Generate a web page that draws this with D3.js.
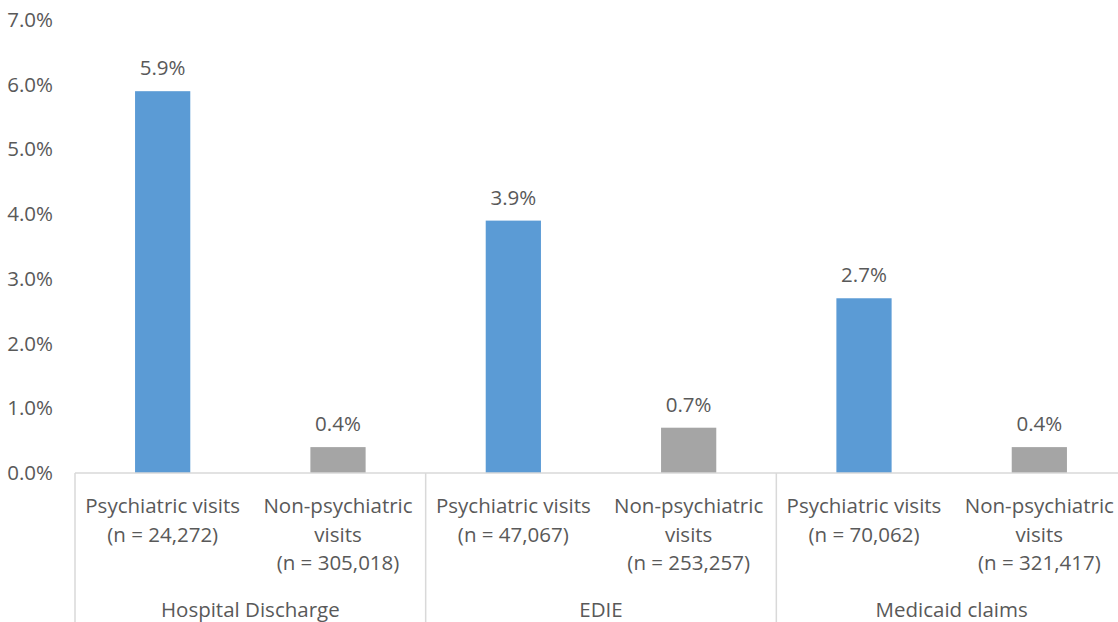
<!DOCTYPE html>
<html>
<head>
<meta charset="utf-8">
<script src="https://cdn.jsdelivr.net/npm/d3@7"></script>
<style>
  body { margin: 0; background: #fff; }
  svg text { font-family: "Open Sans", sans-serif; fill: #595959; }
</style>
</head>
<body>
<svg class="chart"></svg>
<script>
// data
var groups = ["Hospital Discharge", "EDIE", "Medicaid claims"];
var barLabels = [
  ["Psychiatric visits", "(n = 24,272)"],
  ["Non-psychiatric", "visits", "(n = 305,018)"],
  ["Psychiatric visits", "(n = 47,067)"],
  ["Non-psychiatric", "visits", "(n = 253,257)"],
  ["Psychiatric visits", "(n = 70,062)"],
  ["Non-psychiatric", "visits", "(n = 321,417)"]
];
var barKind = ["psych", "non", "psych", "non", "psych", "non"];
var values = [5.9, 0.4, 3.9, 0.7, 2.7, 0.4];
var yTicks = [0, 1, 2, 3, 4, 5, 6, 7];

var width = 1118, height = 622;
var margins = {top: 20, bot: 149, left: 75};
var plotRight = 1127; // chart is a bit cut off on the right
var fs = "20.5px";

var svg = d3.select("svg.chart")
            .attr("width", width)
            .attr("height", height);

var xScale = d3.scaleBand()
               .domain(d3.range(values.length))
               .range([margins.left, plotRight])
               .paddingInner(0.685)
               .paddingOuter(0.3425);

var yScale = d3.scaleLinear()
               .domain([0, 7])
               .range([height - margins.bot, margins.top]);

var colors = {psych: "#5B9BD5", non: "#A5A5A5"};

// y axis labels only (no line, no gridlines)
var yAxis = d3.axisLeft(yScale)
              .tickValues(yTicks)
              .tickFormat(function(d){ return d.toFixed(1) + "%"; })
              .tickSize(0)
              .tickPadding(0);
var yg = svg.append("g")
            .attr("transform", "translate(53,0)")
            .call(yAxis);
yg.select(".domain").remove();
yg.selectAll("text")
  .style("font-size", fs)
  .style("font-family", "'Open Sans', sans-serif")
  .attr("fill", "#595959");

// bars
svg.selectAll("rect.bar")
   .data(values)
   .enter()
   .append("rect")
   .attr("class", "bar")
   .attr("x", function(d, i){ return xScale(i); })
   .attr("y", function(d){ return yScale(d); })
   .attr("width", xScale.bandwidth())
   .attr("height", function(d){ return yScale(0) - yScale(d); })
   .attr("fill", function(d, i){ return colors[barKind[i]]; });

// value labels
svg.selectAll("text.val")
   .data(values)
   .enter()
   .append("text")
   .attr("class", "val")
   .attr("x", function(d, i){ return xScale(i) + xScale.bandwidth() / 2; })
   .attr("y", function(d){ return yScale(d) - 16; })
   .attr("text-anchor", "middle")
   .style("font-size", fs)
   .text(function(d){ return d.toFixed(1) + "%"; });

// baseline
svg.append("line")
   .attr("x1", margins.left).attr("x2", plotRight)
   .attr("y1", yScale(0)).attr("y2", yScale(0))
   .attr("stroke", "#D9D9D9")
   .attr("stroke-width", 1.5);

// group separators
var step = xScale.step();
var sepX = d3.range(groups.length + 1).map(function(i){ return margins.left + i * 2 * step; });
svg.selectAll("line.sep")
   .data(sepX)
   .enter()
   .append("line")
   .attr("class", "sep")
   .attr("x1", function(d){ return d; })
   .attr("x2", function(d){ return d; })
   .attr("y1", yScale(0))
   .attr("y2", height)
   .attr("stroke", "#D9D9D9")
   .attr("stroke-width", 1.5);

// category labels
var catG = svg.selectAll("g.cat")
   .data(barLabels)
   .enter()
   .append("g")
   .attr("class", "cat")
   .attr("transform", function(d, i){
     return "translate(" + (xScale(i) + xScale.bandwidth() / 2) + "," + (yScale(0) + 40) + ")";
   });
catG.selectAll("text")
    .data(function(d){ return d; })
    .enter()
    .append("text")
    .attr("x", 0)
    .attr("y", function(d, j){ return j * 28.5; })
    .attr("text-anchor", "middle")
    .style("font-size", fs)
    .text(function(d){ return d; });

// group labels
svg.selectAll("text.grp")
   .data(groups)
   .enter()
   .append("text")
   .attr("class", "grp")
   .attr("x", function(d, i){ return margins.left + (i * 2 + 1) * step; })
   .attr("y", 617)
   .attr("text-anchor", "middle")
   .style("font-size", fs)
   .text(function(d){ return d; });
</script>
</body>
</html>
